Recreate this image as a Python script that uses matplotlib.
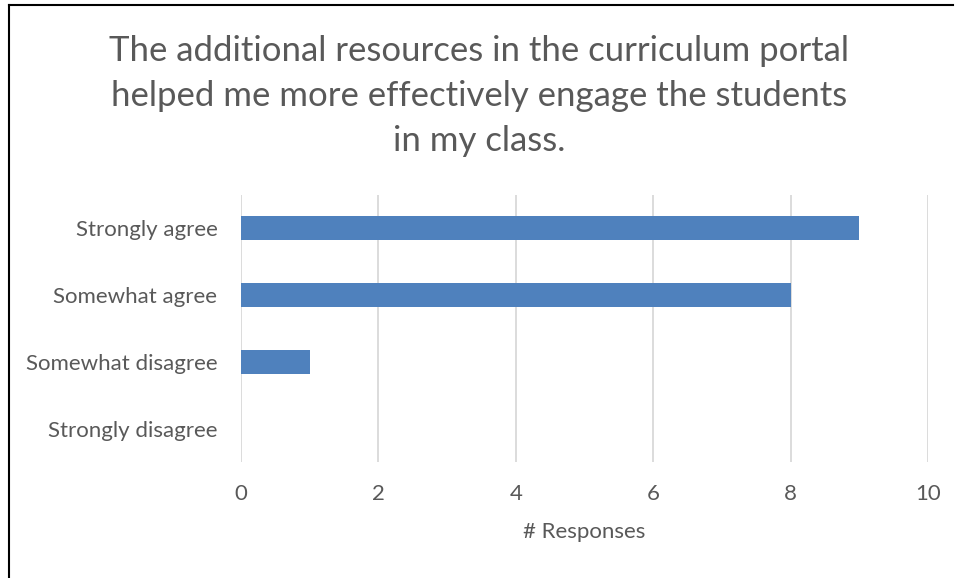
import matplotlib
matplotlib.use("Agg")
import matplotlib.pyplot as plt
from matplotlib.lines import Line2D

categories = ["Strongly disagree", "Somewhat disagree", "Somewhat agree", "Strongly agree"]
responses = [0, 1, 8, 9]
x_ticks = [0, 2, 4, 6, 8, 10]

title = ("The additional resources in the curriculum portal\n"
         "helped me more effectively engage the students\n"
         "in my class.")

text_color = "#595959"
bar_color = "#4F81BD"
grid_color = "#D9D9D9"

plt.rcParams["font.family"] = ["Lato", "DejaVu Sans"]

fig = plt.figure(figsize=(9.58, 5.78), dpi=100)
ax = fig.add_axes([0.2516, 0.2007, 0.7171, 0.4619])

ax.barh(range(len(categories)), responses, height=0.36, color=bar_color, zorder=3)

ax.set_xlim(0, 10)
ax.set_ylim(-0.5, len(categories) - 0.5)
ax.set_xticks(x_ticks)
ax.set_xticklabels([str(t) for t in x_ticks])
ax.set_yticks(range(len(categories)))
ax.set_yticklabels(categories)
ax.tick_params(axis="both", length=0, labelsize=16, colors=text_color)
ax.tick_params(axis="x", pad=16)
ax.tick_params(axis="y", pad=17)

ax.grid(axis="x", color=grid_color, linewidth=1.3, zorder=0)
for side in ax.spines.values():
    side.set_visible(False)

ax.set_xlabel("# Responses", fontsize=16, color=text_color, labelpad=13)

fig.text(0.5, 0.94, title, ha="center", va="top", fontsize=25,
         color=text_color, linespacing=1.5)

# frame lines on the left and top edges
fig.add_artist(Line2D([9 / 958, 953 / 958], [1 - 5 / 578, 1 - 5 / 578],
                      color="black", linewidth=1.5, transform=fig.transFigure))
fig.add_artist(Line2D([9 / 958, 9 / 958], [0, 1 - 5 / 578],
                      color="black", linewidth=1.5, transform=fig.transFigure))

fig.savefig("out.png", dpi=100, facecolor="white")
